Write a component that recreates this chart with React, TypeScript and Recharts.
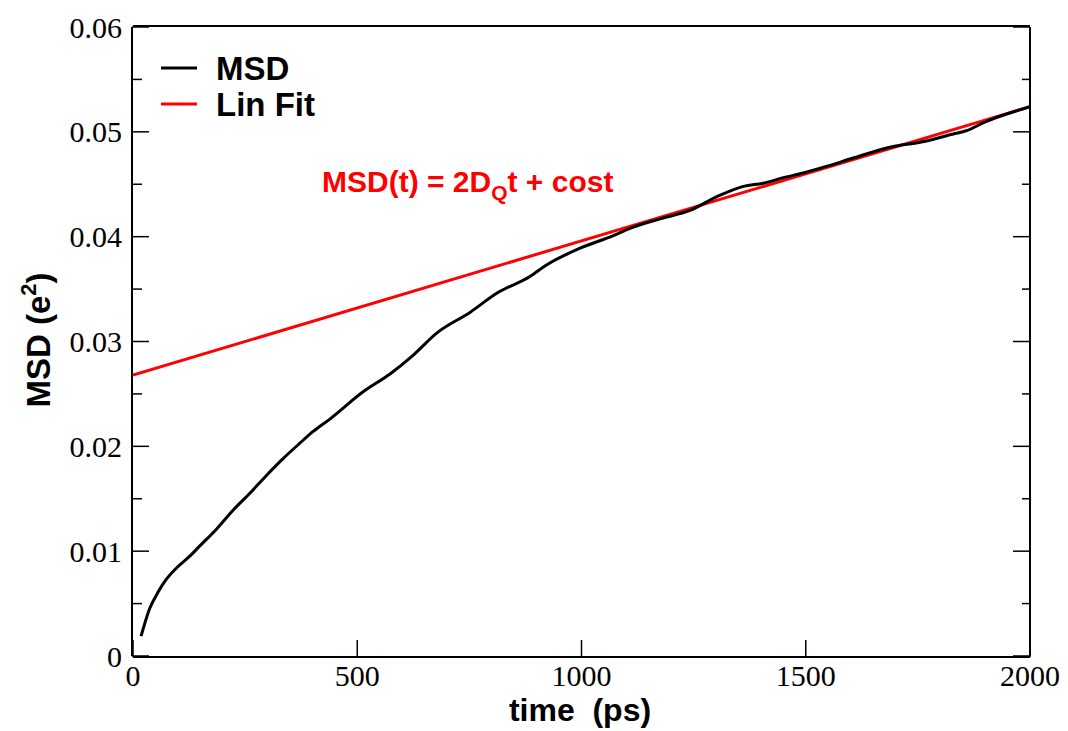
import { LineChart, Line, XAxis, YAxis, Customized } from 'recharts';

// ── Data ─────────────────────────────────────────────────────────────────────

const msdTimes = [
  18, 37, 56, 74, 97, 126, 149, 186, 223, 260, 297, 334, 372, 401, 439, 513,
  573, 625, 677, 752, 811, 885, 922, 997, 1071, 1108, 1175, 1242, 1301, 1361,
  1405, 1457, 1487, 1546, 1606, 1695, 1755, 1829, 1858, 1903, 1948, 2000,
];
const msdValues = [
  0.0019, 0.0045, 0.0061, 0.0073, 0.0084, 0.0095, 0.0105, 0.0121, 0.0139,
  0.0155, 0.0172, 0.0188, 0.0203, 0.0214, 0.0226, 0.0252, 0.0269, 0.0287,
  0.0308, 0.0328, 0.0346, 0.0362, 0.0373, 0.0389, 0.0401, 0.0408, 0.0417,
  0.0425, 0.0438, 0.0448, 0.0451, 0.0457, 0.046, 0.0467, 0.0475, 0.0486,
  0.049, 0.0498, 0.0501, 0.051, 0.0517, 0.0524,
];

const fitTimes = [0, 2000];
const fitValues = [0.0268, 0.0524];

const xMajor = [0, 500, 1000, 1500, 2000];
const xMinor = [100, 200, 300, 400, 600, 700, 800, 900, 1100, 1200, 1300, 1400, 1600, 1700, 1800, 1900];
const yMajor = [0, 0.01, 0.02, 0.03, 0.04, 0.05, 0.06];
const yMinor = [0.005, 0.015, 0.025, 0.035, 0.045, 0.055];

const msdData = msdTimes.map((t, i) => ({ t, v: msdValues[i] }));
const fitData = fitTimes.map((t, i) => ({ t, v: fitValues[i] }));

// ── Styles ───────────────────────────────────────────────────────────────────

const SERIF = '"Liberation Serif", "Times New Roman", serif';
const SANS = '"Liberation Sans", Arial, sans-serif';
const RED = '#ff0000';

const tickFont = { fontSize: 30, fontFamily: SERIF, fill: '#000' };
const axisStroke = { stroke: '#000', strokeWidth: 2 };
const tickStroke = { stroke: '#000', strokeWidth: 1.5 };
const blank = () => '';

const fmtY = (v: number) => (v === 0 ? '0' : v.toFixed(2));

// ── Decorations: legend, equation, axis titles ───────────────────────────────

function Decorations() {
  return (
    <g>
      <line x1={161} x2={197} y1={68} y2={68} stroke="#000" strokeWidth={3} />
      <text x={216} y={80} fontFamily={SANS} fontWeight="bold" fontSize={33} fill="#000">
        MSD
      </text>
      <line x1={161} x2={197} y1={104} y2={104} stroke={RED} strokeWidth={3} />
      <text x={216} y={116} fontFamily={SANS} fontWeight="bold" fontSize={33} fill="#000">
        Lin Fit
      </text>

      <text x={322} y={192} fontFamily={SANS} fontWeight="bold" fontSize={30} fill={RED}>
        MSD(t) = 2D
        <tspan fontSize={21} dy={8}>Q</tspan>
        <tspan dy={-8}>t + cost</tspan>
      </text>

      <text
        x={580}
        y={721}
        textAnchor="middle"
        fontFamily={SANS}
        fontWeight="bold"
        fontSize={32}
        fill="#000"
        style={{ whiteSpace: 'pre' }}
      >
        {'time  (ps)'}
      </text>

      <text
        x={50}
        y={340}
        transform="rotate(-90, 50, 340)"
        textAnchor="middle"
        fontFamily={SANS}
        fontWeight="bold"
        fontSize={33}
        fill="#000"
      >
        MSD (e
        <tspan fontSize={22} dy={-14}>2</tspan>
        <tspan dy={14}>)</tspan>
      </text>
    </g>
  );
}

// ── Chart ────────────────────────────────────────────────────────────────────

export default function App() {
  return (
    <div style={{ position: 'absolute', left: 0, top: 0, background: '#fff' }}>
      <LineChart
        width={1068}
        height={731}
        margin={{ top: 25, right: 36, bottom: 73, left: 131 }}
      >
        {/* bottom: major with labels, minor */}
        <XAxis
          xAxisId="main"
          type="number"
          dataKey="t"
          domain={[0, 2000]}
          allowDataOverflow
          ticks={xMajor}
          interval={0}
          height={1}
          tickSize={-17}
          tickMargin={25}
          tick={tickFont}
          axisLine={axisStroke}
          tickLine={tickStroke}
        />
        <XAxis
          xAxisId="bminor"
          type="number"
          domain={[0, 2000]}
          allowDataOverflow
          ticks={xMinor}
          interval={0}
          height={1}
          tickSize={-9}
          tickFormatter={blank}
          axisLine={false}
          tickLine={tickStroke}
        />
        {/* top frame */}
        <XAxis
          xAxisId="top"
          orientation="top"
          type="number"
          domain={[0, 2000]}
          allowDataOverflow
          ticks={xMajor}
          interval={0}
          height={1}
          tickSize={-17}
          tickFormatter={blank}
          axisLine={axisStroke}
          tickLine={tickStroke}
        />
        <XAxis
          xAxisId="tminor"
          orientation="top"
          type="number"
          domain={[0, 2000]}
          allowDataOverflow
          ticks={xMinor}
          interval={0}
          height={1}
          tickSize={-9}
          tickFormatter={blank}
          axisLine={false}
          tickLine={tickStroke}
        />

        {/* left: major with labels, minor */}
        <YAxis
          yAxisId="main"
          type="number"
          domain={[0, 0.06]}
          allowDataOverflow
          ticks={yMajor}
          interval={0}
          width={1}
          tickSize={-17}
          tickMargin={27}
          tick={tickFont}
          tickFormatter={fmtY}
          axisLine={axisStroke}
          tickLine={tickStroke}
        />
        <YAxis
          yAxisId="lminor"
          type="number"
          domain={[0, 0.06]}
          allowDataOverflow
          ticks={yMinor}
          interval={0}
          width={1}
          tickSize={-9}
          tickFormatter={blank}
          axisLine={false}
          tickLine={tickStroke}
        />
        {/* right frame */}
        <YAxis
          yAxisId="right"
          orientation="right"
          type="number"
          domain={[0, 0.06]}
          allowDataOverflow
          ticks={yMajor}
          interval={0}
          width={1}
          tickSize={-17}
          tickFormatter={blank}
          axisLine={axisStroke}
          tickLine={tickStroke}
        />
        <YAxis
          yAxisId="rminor"
          orientation="right"
          type="number"
          domain={[0, 0.06]}
          allowDataOverflow
          ticks={yMinor}
          interval={0}
          width={1}
          tickSize={-9}
          tickFormatter={blank}
          axisLine={false}
          tickLine={tickStroke}
        />

        <Line
          xAxisId="main"
          yAxisId="main"
          data={fitData}
          dataKey="v"
          type="linear"
          stroke={RED}
          strokeWidth={3}
          dot={false}
          isAnimationActive={false}
        />
        <Line
          xAxisId="main"
          yAxisId="main"
          data={msdData}
          dataKey="v"
          type="monotone"
          stroke="#000"
          strokeWidth={3}
          dot={false}
          isAnimationActive={false}
        />

        <Customized component={<Decorations />} />
      </LineChart>
    </div>
  );
}
